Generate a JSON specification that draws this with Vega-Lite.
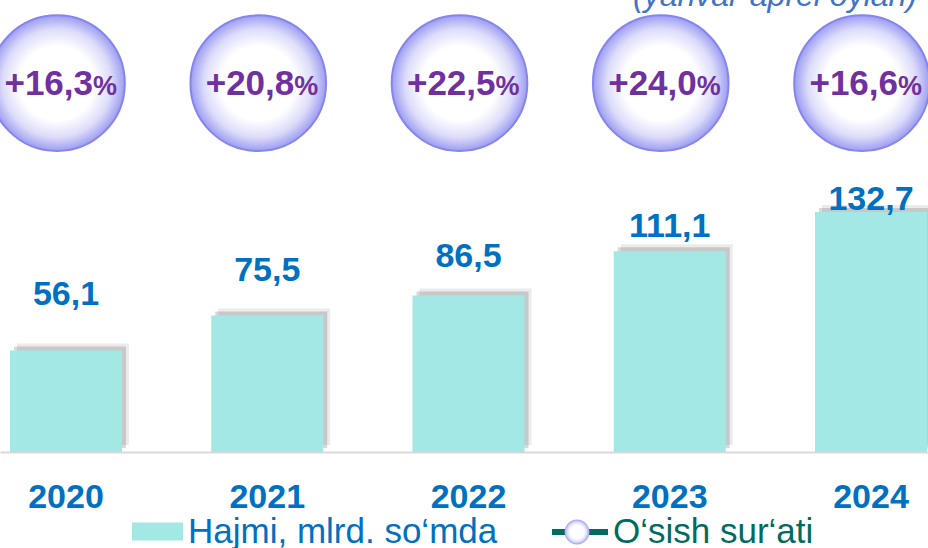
{
  "$schema": "https://vega.github.io/schema/vega-lite/v6.json",
  "width": 928,
  "height": 452,
  "autosize": "none",
  "padding": {"top": 0, "left": 0, "right": 0, "bottom": 96},
  "background": "#ffffff",
  "config": {"view": {"stroke": null}, "font": "Liberation Sans"},
  "title": {"text": "(yanvar-aprel oylari)", "orient": "top", "anchor": "start", "frame": "group", "dx": 633, "offset": -38, "baseline": "alphabetic", "font": "Liberation Sans", "fontSize": 32, "fontStyle": "italic", "fontWeight": "normal", "color": "#4472c4"},
  "data": {"values": [
    {"year": "2020", "value": 56.1, "lab": "56,1", "pct": "+16,3"},
    {"year": "2021", "value": 75.5, "lab": "75,5", "pct": "+20,8"},
    {"year": "2022", "value": 86.5, "lab": "86,5", "pct": "+22,5"},
    {"year": "2023", "value": 111.1, "lab": "111,1", "pct": "+24,0"},
    {"year": "2024", "value": 132.7, "lab": "132,7", "pct": "+16,6"}
  ]},
  "resolve": {"scale": {"y": "independent"}},
  "encoding": {
    "x": {"field": "year", "type": "nominal", "sort": null,
      "scale": {"type": "band", "range": [0, 937], "paddingInner": 0.4435, "paddingOuter": 0.0497},
      "axis": {"title": null, "ticks": false, "grid": false, "domain": true, "domainColor": "#d9d9d9", "domainWidth": 2, "labelAngle": 0, "labelPadding": 28, "labelFont": "Liberation Sans", "labelFontSize": 34, "labelFontWeight": "bold", "labelColor": "#0070c0"}}
  },
  "layer": [
    {"mark": {"type": "bar", "color": "#000000", "opacity": 0.08, "xOffset": 7, "yOffset": -7},
     "encoding": {"y": {"field": "value", "type": "quantitative", "scale": {"domain": [0, 250], "nice": false, "zero": true}, "axis": null}}},
    {"mark": {"type": "bar", "color": "#000000", "opacity": 0.15, "xOffset": 4, "yOffset": -4},
     "encoding": {"y": {"field": "value", "type": "quantitative", "scale": {"domain": [0, 250], "nice": false, "zero": true}, "axis": null}}},
    {"mark": {"type": "bar"},
     "encoding": {
       "y": {"field": "value", "type": "quantitative", "scale": {"domain": [0, 250], "nice": false, "zero": true}, "axis": null},
       "fill": {"datum": "Hajmi, mlrd. so‘mda", "scale": {"range": ["#a3e8e4"]},
         "legend": {"orient": "none", "legendX": 132, "legendY": 506, "title": null, "padding": 0, "symbolType": "M-1,-0.353H1V0.353H-1Z", "symbolSize": 2601, "symbolStrokeWidth": 0, "labelFont": "Liberation Sans", "labelFontSize": 35, "labelColor": "#0070c0", "labelOffset": 5, "labelLimit": 0}}
     }},
    {"mark": {"type": "text", "font": "Liberation Sans", "fontSize": 34, "fontWeight": "bold", "color": "#0070c0", "baseline": "alphabetic", "dy": 6},
     "encoding": {"y": {"field": "value", "type": "quantitative", "scale": {"domain": [-68.1, 298.2], "nice": false, "zero": false}, "axis": null}, "text": {"field": "lab"}}},
    {"transform": [{"filter": "datum.year == '2020'"}],
     "mark": {"type": "line", "strokeWidth": 6},
     "encoding": {
       "y": {"datum": 204, "type": "quantitative", "scale": {"domain": [0, 250], "nice": false, "zero": true}, "axis": null},
       "color": {"datum": "O‘sish sur‘ati", "scale": {"range": ["#006b5f"]},
         "legend": {"orient": "none", "legendX": 549, "legendY": 501, "title": null, "padding": 0, "symbolType": "stroke", "symbolSize": 3136, "symbolStrokeWidth": 6, "labelFont": "Liberation Sans", "labelFontSize": 35, "labelColor": "#006b5f", "labelOffset": 2, "labelLimit": 0}}
     }},
    {"mark": {"type": "point", "filled": false, "size": 18400, "strokeWidth": 2, "stroke": "#8585ee", "xOffset": -9, "opacity": 1,
       "fill": {"gradient": "radial", "x1": 0.5, "y1": 0.5, "r1": 0, "x2": 0.5, "y2": 0.5, "r2": 0.5,
         "stops": [{"offset": 0, "color": "#ffffff"}, {"offset": 0.55, "color": "#ffffff"}, {"offset": 0.8, "color": "#dcdcfa"}, {"offset": 1, "color": "#9d9df2"}]},
       "fillOpacity": 1},
     "encoding": {
       "y": {"datum": 204, "type": "quantitative", "scale": {"domain": [0, 250], "nice": false, "zero": true}, "axis": null},
       "shape": {"datum": "marker", "scale": {"range": ["circle"]},
         "legend": {"orient": "none", "legendX": 563, "legendY": 518, "title": null, "padding": 0, "symbolSize": 616, "symbolFillColor": "#ffffff", "symbolStrokeColor": "#8585ee", "symbolStrokeWidth": 3, "labelExpr": "''", "labelFontSize": 1, "zindex": 5}}
     }},
    {"mark": {"type": "text", "font": "Liberation Sans", "fontSize": 35, "fontWeight": "bold", "color": "#7030a0", "align": "right", "baseline": "alphabetic", "dx": 27, "dy": 12},
     "encoding": {"y": {"datum": 204, "type": "quantitative", "scale": {"domain": [0, 250], "nice": false, "zero": true}, "axis": null}, "text": {"field": "pct"}}},
    {"mark": {"type": "text", "font": "Liberation Sans", "fontSize": 27, "fontWeight": "bold", "color": "#7030a0", "align": "left", "baseline": "alphabetic", "dx": 27, "dy": 12},
     "encoding": {"y": {"datum": 204, "type": "quantitative", "scale": {"domain": [0, 250], "nice": false, "zero": true}, "axis": null}, "text": {"value": "%"}}}
  ]
}
